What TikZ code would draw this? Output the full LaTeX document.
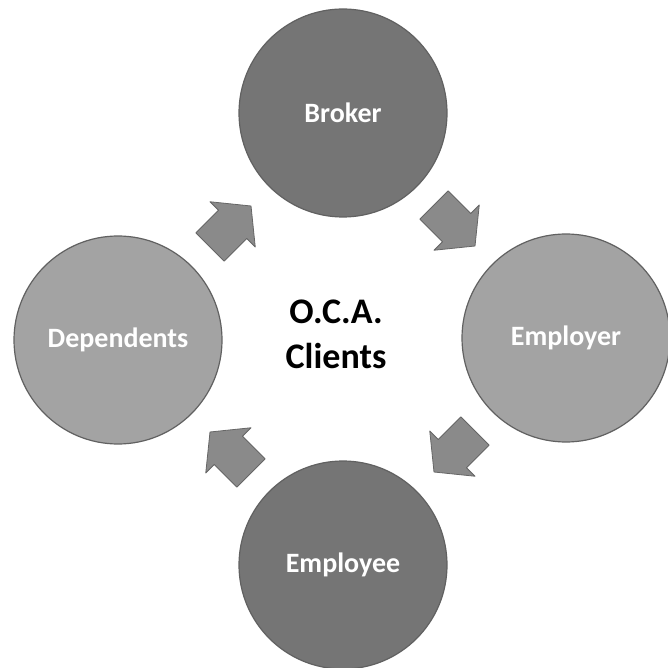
\documentclass[tikz,border=0pt]{standalone}
\usepackage{fontspec}
\setmainfont{Carlito}
\usetikzlibrary{calc}
\begin{document}
\begin{tikzpicture}[x=1pt,y=1pt,
  ball/.style={circle,minimum size=208pt,inner sep=0pt,draw=black!62,line width=1.2pt,
    font=\bfseries\fontsize{28}{32}\selectfont,text=white},
  darkball/.style={ball,fill=black!54},
  lightball/.style={ball,fill=black!36},
  flow/.style={fill=black!46,draw=black!60,line width=0.8pt,line join=round},
  blockarrow/.pic={\path[flow] (-29,-20) -- (-29,20) -- (3,20) -- (3,32) -- (29,0) -- (3,-32) -- (3,-20) -- cycle;}]
\useasboundingbox (0,0) rectangle (668,667);
\node[darkball] (broker) at (343,554) {Broker};
\node[lightball] (employer) at (566,329) {Employer};
\node[darkball] (employee) at (343,102) {Employee};
\node[lightball] (dependents) at (118,327) {Dependents};
\node[align=center,font=\bfseries\fontsize{36}{45}\selectfont] (center) at (336,333) {O.C.A.\\Clients};
\coordinate (a1) at ($(broker)!0.5!(employer)$);
\coordinate (a2) at ($(employer)!0.5!(employee)$);
\coordinate (a3) at ($(employee)!0.5!(dependents)$);
\coordinate (a4) at ($(dependents)!0.5!(broker)$);
\pic[rotate=-45] at (a1) {blockarrow};
\pic[rotate=-135] at (a2) {blockarrow};
\pic[rotate=135] at (a3) {blockarrow};
\pic[rotate=45] at (a4) {blockarrow};
\end{tikzpicture}
\end{document}
